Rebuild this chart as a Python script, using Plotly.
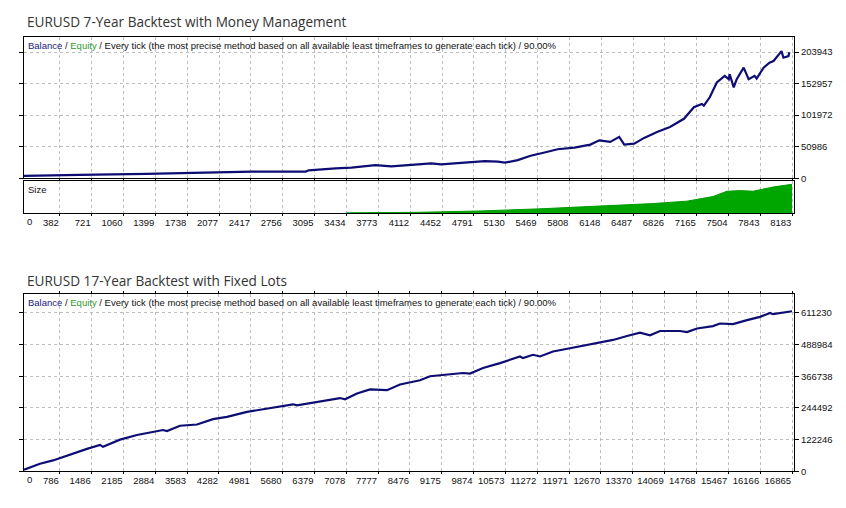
import plotly.graph_objects as go

# ---------------- Chart 1: 7-year backtest with money management ----------------
mm_trade = [0, 382, 594, 1304, 1791, 2427, 3000, 3032, 3318, 3487, 3742, 3911, 4198, 4335,
            4441, 4653, 4908, 5046, 5120, 5258, 5395, 5544, 5682, 5862, 6031, 6127, 6243,
            6339, 6392, 6498, 6604, 6742, 6879, 7028, 7134, 7219, 7240, 7303, 7378, 7462,
            7505, 7515, 7558, 7590, 7664, 7717, 7780, 7802, 7876, 7939, 7982, 8067, 8088,
            8141, 8151]
mm_balance = [3700, 5300, 5300, 6900, 8500, 10700, 10700, 12800, 16000, 17100, 21300, 19200,
              22400, 24000, 22400, 25100, 27700, 26700, 25100, 29300, 36300, 41600, 46900,
              49600, 54400, 61300, 58800, 66800, 54400, 56000, 65200, 74800, 82800, 96100,
              114800, 120100, 117400, 130800, 154800, 165400, 160100, 168100, 146800, 160100,
              178800, 160100, 165400, 161200, 178800, 186800, 189400, 205400, 194800, 197400,
              203800]
mm_size_trade = [3434, 4196, 4856, 5282, 5495, 6134, 6699, 7061, 7338, 7487, 7625, 7764, 7977, 8179]
mm_size_lots = [0.5, 1.0, 2.3, 3.6, 4.3, 7.0, 9.3, 11.6, 16.0, 21.0, 21.6, 21.0, 25.0, 27.6]
mm_xticks = [0, 382, 721, 1060, 1399, 1738, 2077, 2417, 2756, 3095, 3434, 3773, 4112, 4452,
             4791, 5130, 5469, 5808, 6148, 6487, 6826, 7165, 7504, 7843, 8183]
mm_yticks = [0, 50986, 101972, 152957, 203943]

# ---------------- Chart 2: 17-year backtest with fixed lots ----------------
fl_trade = [0, 351, 637, 1076, 1383, 1669, 1735, 2108, 2481, 3052, 3140, 3426, 3799, 4150,
            4458, 4897, 5336, 5775, 5906, 5994, 6346, 6939, 7049, 7313, 7598, 7884, 7972,
            8257, 8477, 8696, 8916, 9289, 9640, 9794, 10080, 10453, 10673, 10892, 10958,
            11177, 11331, 11617, 11990, 12363, 12649, 12935, 13242, 13527, 13747, 13967,
            14406, 14560, 14779, 15130, 15284, 15570, 15877, 16163, 16383, 16449, 16865]
fl_balance = [6500, 29400, 42000, 69900, 86700, 102000, 94400, 122200, 140200, 159300, 155500,
              175700, 180700, 201300, 210100, 229200, 241800, 252100, 258600, 254800, 264700,
              282700, 277700, 300600, 315900, 315900, 313200, 335000, 343800, 351400, 366700,
              373200, 379300, 377000, 398400, 417500, 430500, 443100, 436600, 449600, 443100,
              462200, 474800, 487800, 496600, 506900, 522200, 534800, 524500, 541300, 541300,
              537500, 551200, 560400, 570300, 568000, 583300, 595900, 611200, 606200, 617700]
fl_xticks = [0, 786, 1486, 2185, 2884, 3583, 4282, 4981, 5680, 6379, 7078, 7777, 8476, 9175,
             9874, 10573, 11272, 11971, 12670, 13370, 14069, 14768, 15467, 16166, 16865]
fl_yticks = [0, 122246, 244492, 366738, 488984, 611230]

titles = ["EURUSD 7-Year Backtest with Money Management", "EURUSD 17-Year Backtest with Fixed Lots"]
legend_text = ("<span style='color:#1a1a80'>Balance</span> / "
               "<span style='color:#2e9a2e'>Equity</span> / Every tick (the most precise method "
               "based on all available least timeframes to generate each tick) / 90.00%")

H = 508.0
def dom(top_px, bot_px):
    return [1 - bot_px / H, 1 - top_px / H]

BAL = "#0d0d73"
GRID = "#bdbdbd"
TICKFONT = dict(family="Liberation Sans, Arial, sans-serif", size=9.5, color="#111111")

fig = go.Figure()
fig.add_trace(go.Scatter(x=mm_trade, y=mm_balance, mode="lines", xaxis="x", yaxis="y",
                         line=dict(color=BAL, width=2.2), showlegend=False))
fig.add_trace(go.Scatter(x=mm_size_trade, y=mm_size_lots, mode="lines", xaxis="x", yaxis="y2",
                         fill="tozeroy", fillcolor="#00a600", line=dict(color="#009a00", width=1),
                         showlegend=False))
fig.add_trace(go.Scatter(x=fl_trade, y=fl_balance, mode="lines", xaxis="x2", yaxis="y3",
                         line=dict(color=BAL, width=2.2), showlegend=False))

common_x = dict(showgrid=True, gridcolor=GRID, griddash="3px,3px", gridwidth=1,
                showline=True, linecolor="black", linewidth=1, mirror="all",
                ticks="outside", ticklen=2, tickcolor="black", tickangle=0,
                ticklabelposition="outside left", tickfont=TICKFONT, zeroline=False)
common_y = dict(side="right", showgrid=True, gridcolor=GRID, griddash="3px,3px", gridwidth=1,
                showline=True, linecolor="black", linewidth=1, mirror="all",
                ticks="outside", ticklen=4, tickcolor="black", tickfont=TICKFONT, zeroline=False)

fig.update_layout(
    width=846, height=508, paper_bgcolor="white", plot_bgcolor="white",
    margin=dict(l=24, r=52, t=0, b=0),
    xaxis=dict(common_x, domain=[0, 1], range=[0, 8200], anchor="y2",
               tickvals=mm_xticks[1:], ticktext=[str(v) for v in mm_xticks[1:]]),
    yaxis=dict(common_y, domain=dom(37.3, 180), range=[0, 228400], anchor="x",
               tickvals=mm_yticks, ticktext=[str(v) for v in mm_yticks]),
    yaxis2=dict(domain=dom(182.5, 215.5), range=[0, 31], anchor="x", showgrid=False,
                showticklabels=False, ticks="", showline=True, linecolor="black",
                linewidth=1, mirror="all", zeroline=False),
    xaxis2=dict(common_x, domain=[0, 1], range=[0, 16909], anchor="y3",
                tickvals=fl_xticks[1:], ticktext=[str(v) for v in fl_xticks[1:]]),
    yaxis3=dict(common_y, domain=dom(297.3, 476), range=[0, 682700], anchor="x2",
                tickvals=fl_yticks, ticktext=[str(v) for v in fl_yticks]),
)

ann = []
for i, (t, ty) in enumerate(zip(titles, [22, 283])):
    ann.append(dict(text=t, xref="paper", yref="paper", x=0, y=1 - ty / H, xanchor="left",
                    yanchor="middle", xshift=1, showarrow=False,
                    font=dict(family="Open Sans, sans-serif", size=13.6, color="#333333")))
for yd in ["y domain", "y3 domain"]:
    xd = "x domain" if yd == "y domain" else "x2 domain"
    ann.append(dict(text=legend_text, xref=xd, yref=yd, x=0, y=1, xanchor="left",
                    yanchor="top", xshift=2, yshift=-1, showarrow=False, font=TICKFONT))
ann.append(dict(text="Size", xref="x domain", yref="y2 domain", x=0, y=1, xanchor="left",
                yanchor="top", xshift=2, yshift=-1, showarrow=False, font=TICKFONT))
# the "0" trade label sits just inside the left edge, as in the original
ann.append(dict(text=str(mm_xticks[0]), xref="x", yref="y2 domain", x=mm_xticks[0], y=0,
                xanchor="left", yanchor="top", xshift=1, yshift=-1, showarrow=False, font=TICKFONT))
ann.append(dict(text=str(fl_xticks[0]), xref="x2", yref="y3 domain", x=fl_xticks[0], y=0,
                xanchor="left", yanchor="top", xshift=1, yshift=-1, showarrow=False, font=TICKFONT))
fig.update_layout(annotations=ann)

fig.write_html("out.html", config={"displayModeBar": False},
               post_script="document.body.style.margin='0px';")
